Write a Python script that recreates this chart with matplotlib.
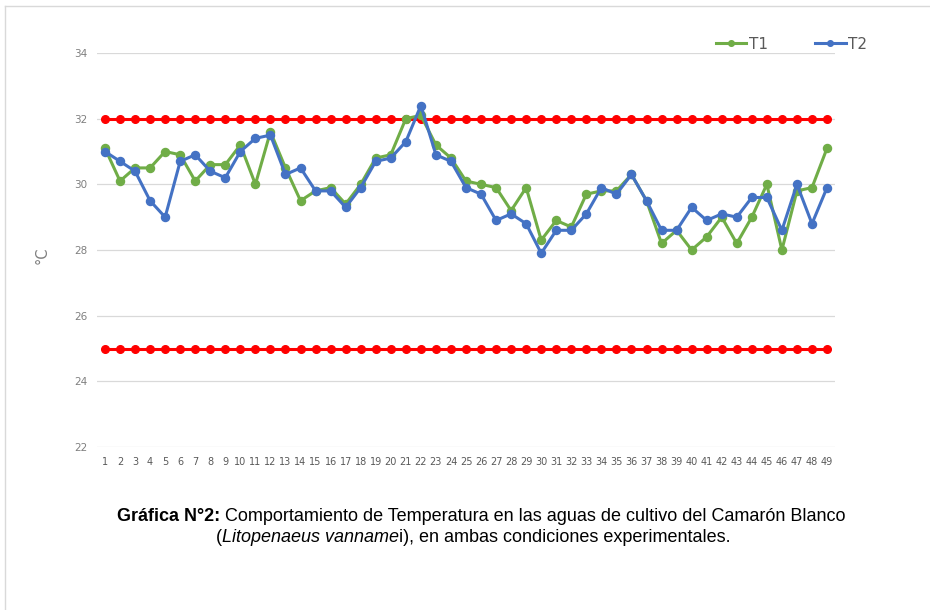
import matplotlib.pyplot as plt
from matplotlib.lines import Line2D

# Data: daily water temperature (°C) for both treatments
dias = list(range(1, 50))
t1 = [31.1, 30.1, 30.5, 30.5, 31.0, 30.9, 30.1, 30.6, 30.6, 31.2,
      30.0, 31.6, 30.5, 29.5, 29.8, 29.9, 29.4, 30.0, 30.8, 30.9,
      32.0, 32.1, 31.2, 30.8, 30.1, 30.0, 29.9, 29.2, 29.9, 28.3,
      28.9, 28.7, 29.7, 29.8, 29.8, 30.3, 29.5, 28.2, 28.6, 28.0,
      28.4, 29.0, 28.2, 29.0, 30.0, 28.0, 29.8, 29.9, 31.1]
t2 = [31.0, 30.7, 30.4, 29.5, 29.0, 30.7, 30.9, 30.4, 30.2, 31.0,
      31.4, 31.5, 30.3, 30.5, 29.8, 29.8, 29.3, 29.9, 30.7, 30.8,
      31.3, 32.4, 30.9, 30.7, 29.9, 29.7, 28.9, 29.1, 28.8, 27.9,
      28.6, 28.6, 29.1, 29.9, 29.7, 30.3, 29.5, 28.6, 28.6, 29.3,
      28.9, 29.1, 29.0, 29.6, 29.6, 28.6, 30.0, 28.8, 29.9]
limite_sup = [32] * 49
limite_inf = [25] * 49
y_ticks = [22, 24, 26, 28, 30, 32, 34]

verde = "#70ad47"
azul = "#4472c4"
rojo = "#ff0000"
gris = "#7f7f7f"

fig = plt.figure(figsize=(9.3, 6.1), dpi=100)
ax = fig.add_axes([97 / 930, 1 - 447 / 610, 738 / 930, 394 / 610])

# limit lines (red, behind the series)
ax.plot(dias, limite_sup, color=rojo, lw=2.2, marker="o", ms=5.5, zorder=2)
ax.plot(dias, limite_inf, color=rojo, lw=2.2, marker="o", ms=5.5, zorder=2)

ax.plot(dias, t1, color=verde, lw=2.2, marker="o", ms=5.8, zorder=3, label="T1")
ax.plot(dias, t2, color=azul, lw=2.2, marker="o", ms=5.8, zorder=4, label="T2")

ax.set_xlim(0.47, 49.53)
ax.set_ylim(22, 34)
ax.set_yticks(y_ticks)
ax.set_xticks(dias)
ax.set_xticklabels([str(d) for d in dias], family=["Liberation Sans Narrow", "DejaVu Sans"],
                   fontsize=7, color="#595959")
ax.tick_params(axis="y", labelsize=7.5, labelcolor=gris, length=0, pad=7)
ax.tick_params(axis="x", length=0, pad=7)
ax.grid(axis="y", color="#d9d9d9", lw=0.9)
ax.set_axisbelow(True)
for s in ax.spines.values():
    s.set_visible(False)

fig.text(42 / 930, 1 - 255 / 610, "°C", rotation=90, fontsize=10.5, color=gris,
         ha="center", va="center")

# legend
ax.legend(loc="upper left", bbox_to_anchor=(702 / 930, 1 - 23 / 610),
          bbox_transform=fig.transFigure, ncol=2, frameon=False,
          fontsize=11, labelcolor="#595959", handlelength=2.0, handletextpad=0.15,
          columnspacing=3.1, markerscale=0.7)

# caption, built from pieces so the bold and italic parts line up
cap_font = ["Liberation Sans", "DejaVu Sans"]
t_a = fig.text(117 / 930, 1 - 521 / 610, "Gráfica N°2:", fontsize=13, fontweight="bold",
               family=cap_font, va="baseline")
ax.annotate(" Comportamiento de Temperatura en las aguas de cultivo del Camarón Blanco",
            xy=(1, 0), xycoords=t_a, fontsize=13, family=cap_font, va="bottom",
            annotation_clip=False)
t_b = fig.text(216 / 930, 1 - 542 / 610, "(", fontsize=13, family=cap_font, va="baseline")
t_c = ax.annotate("Litopenaeus vanname", xy=(1, 0), xycoords=t_b, fontsize=13,
                  family=cap_font, style="italic", va="bottom", annotation_clip=False)
ax.annotate("i), en ambas condiciones experimentales.", xy=(1, 0), xycoords=t_c,
            fontsize=13, family=cap_font, va="bottom", annotation_clip=False)

# frame lines of the original image
fig.add_artist(Line2D([4.5 / 930, 1], [1 - 6 / 610, 1 - 6 / 610], color="#d9d9d9", lw=1,
                      transform=fig.transFigure))
fig.add_artist(Line2D([4.5 / 930, 4.5 / 930], [0, 1 - 6 / 610], color="#d9d9d9", lw=1,
                      transform=fig.transFigure))

fig.savefig("out.png", dpi=100)
